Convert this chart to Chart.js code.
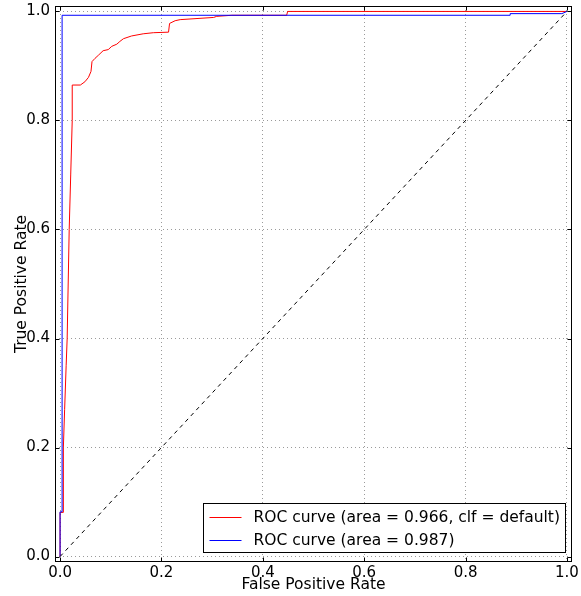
<!DOCTYPE html>
<html>
<head>
<meta charset="utf-8">
<script src="https://cdn.jsdelivr.net/npm/chart.js@4/dist/chart.umd.min.js"></script>
<style>
  html, body { margin: 0; padding: 0; background: #fff; overflow: hidden; }
  #wrap { width: 581px; height: 596px; position: relative; overflow: hidden; }
  #inner { width: 582px; height: 607px; margin-top: -8px; position: relative; }
</style>
</head>
<body>
<div id="wrap"><div id="inner"><canvas id="roc"></canvas></div></div>
<script>
// curva del clasificador por defecto (rojo)
const redFpr = [0, 0, 0.006, 0.006, 0.007, 0.009, 0.012, 0.014, 0.016, 0.018, 0.021, 0.024, 0.024, 0.040, 0.049, 0.056, 0.061, 0.063, 0.069, 0.076, 0.085, 0.095, 0.102, 0.112, 0.118, 0.125, 0.141, 0.164, 0.184, 0.214, 0.216, 0.227, 0.237, 0.303, 0.309, 0.339, 0.447, 0.449, 1.0];
const redTpr = [0, 0.081, 0.081, 0.150, 0.200, 0.270, 0.350, 0.400, 0.500, 0.600, 0.700, 0.800, 0.865, 0.865, 0.871, 0.879, 0.890, 0.908, 0.914, 0.920, 0.928, 0.930, 0.936, 0.940, 0.945, 0.950, 0.955, 0.959, 0.961, 0.962, 0.978, 0.983, 0.985, 0.989, 0.991, 0.993, 0.993, 1.0, 1.0];

// segunda curva (azul)
const blueFpr = [0, 0, 0.004, 0.004, 0.888, 0.888, 0.990, 1.0];
const blueTpr = [0, 0.082, 0.082, 0.993, 0.993, 0.996, 0.996, 1.0];

// diagonal de referencia
const chanceX = [0, 1];
const chanceY = [0, 1];

const tickValues = [0, 0.2, 0.4, 0.6, 0.8, 1.0];
const redLabel = 'ROC curve (area = 0.966, clf = default)';
const blueLabel = 'ROC curve (area = 0.987)';

const toPoints = (xs, ys) => xs.map((x, i) => ({ x: x, y: ys[i] }));
const FONT = 'DejaVu Sans';

// marco completo, marcas de ticks hacia dentro y leyenda con caja
const framePlugin = {
    id: 'frame',
    afterDraw(chart) {
        const { ctx, chartArea: a, scales } = chart;
        ctx.save();
        ctx.strokeStyle = '#000';
        ctx.lineWidth = 1;
        ctx.setLineDash([]);
        const L = Math.round(a.left) + 0.5, R = Math.round(a.right) - 0.5;
        const T = Math.round(a.top) + 0.5, B = Math.round(a.bottom) - 0.5;
        ctx.strokeRect(L, T, R - L, B - T);
        ctx.beginPath();
        tickValues.forEach(v => {
            const px = Math.round(scales.x.getPixelForValue(v)) + 0.5;
            ctx.moveTo(px, B); ctx.lineTo(px, B - 4);
            ctx.moveTo(px, T); ctx.lineTo(px, T + 4);
            const py = Math.round(scales.y.getPixelForValue(v)) + 0.5;
            ctx.moveTo(L, py); ctx.lineTo(L + 4, py);
            ctx.moveTo(R, py); ctx.lineTo(R - 4, py);
        });
        ctx.stroke();

        // leyenda
        const entries = chart.data.datasets.filter(d => d.label);
        ctx.font = '15.5px "' + FONT + '"';
        const textW = Math.max(...entries.map(d => ctx.measureText(d.label).width));
        const rowH = 23;
        const boxW = Math.round(50 + textW + 6);
        const boxH = entries.length * rowH + 3;
        const bx = Math.round(a.right - 7 - boxW) + 0.5;
        const by = Math.round(a.bottom - 10 - boxH) + 0.5;
        ctx.fillStyle = '#fff';
        ctx.fillRect(bx, by, boxW, boxH);
        ctx.strokeStyle = '#000';
        ctx.strokeRect(bx, by, boxW, boxH);
        entries.forEach((d, i) => {
            const cy = Math.round(by + 13 + i * rowH) + 0.5;
            ctx.strokeStyle = d.borderColor;
            ctx.beginPath();
            ctx.moveTo(bx + 6, cy);
            ctx.lineTo(bx + 38, cy);
            ctx.stroke();
            ctx.fillStyle = '#000';
            ctx.textBaseline = 'middle';
            ctx.fillText(d.label, bx + 50, cy);
        });
        ctx.restore();
    }
};

const setTicks = scale => { scale.ticks = tickValues.map(v => ({ value: v })); };
const gridStyle = { color: '#9a9a9a', lineWidth: 1, drawTicks: false };

new Chart(document.getElementById('roc'), {
    type: 'scatter',
    data: {
        datasets: [
            {
                label: redLabel,
                data: toPoints(redFpr, redTpr),
                borderColor: '#ff0000',
                borderWidth: 1,
                showLine: true,
                pointRadius: 0,
                tension: 0,
                order: 2
            },
            {
                label: blueLabel,
                data: toPoints(blueFpr, blueTpr),
                borderColor: '#0000ff',
                borderWidth: 1,
                showLine: true,
                pointRadius: 0,
                tension: 0,
                order: 1
            },
            {
                label: '',
                data: toPoints(chanceX, chanceY),
                borderColor: '#000',
                borderWidth: 1,
                borderDash: [4, 4],
                showLine: true,
                pointRadius: 0,
                order: 0
            }
        ]
    },
    options: {
        responsive: true,
        maintainAspectRatio: false,
        animation: false,
        layout: { padding: { top: 5, right: 10, left: 0, bottom: 0 } },
        plugins: {
            legend: { display: false },
            tooltip: { enabled: false }
        },
        scales: {
            x: {
                type: 'linear',
                min: -0.01,
                max: 1.01,
                afterBuildTicks: setTicks,
                afterFit: s => { s.height = 37; },
                grid: { ...gridStyle },
                border: { display: false, dash: [1, 3] },
                ticks: {
                    color: '#000',
                    padding: 2,
                    font: { family: FONT, size: 15 },
                    callback: v => v.toFixed(1)
                },
                title: {
                    display: true,
                    text: 'False Positive Rate',
                    color: '#000',
                    font: { family: FONT, size: 15.5 },
                    padding: { top: 0, bottom: 5 }
                }
            },
            y: {
                type: 'linear',
                min: -0.01,
                max: 1.01,
                afterBuildTicks: setTicks,
                afterFit: s => { s.width = 55; },
                grid: { ...gridStyle },
                border: { display: false, dash: [1, 3] },
                ticks: {
                    color: '#000',
                    padding: 5,
                    font: { family: FONT, size: 15 },
                    callback: v => v.toFixed(1)
                },
                title: {
                    display: true,
                    text: 'True Positive Rate',
                    color: '#000',
                    font: { family: FONT, size: 15.5 },
                    padding: { top: 13, bottom: 0 }
                }
            }
        }
    },
    plugins: [framePlugin]
});
</script>
</body>
</html>
